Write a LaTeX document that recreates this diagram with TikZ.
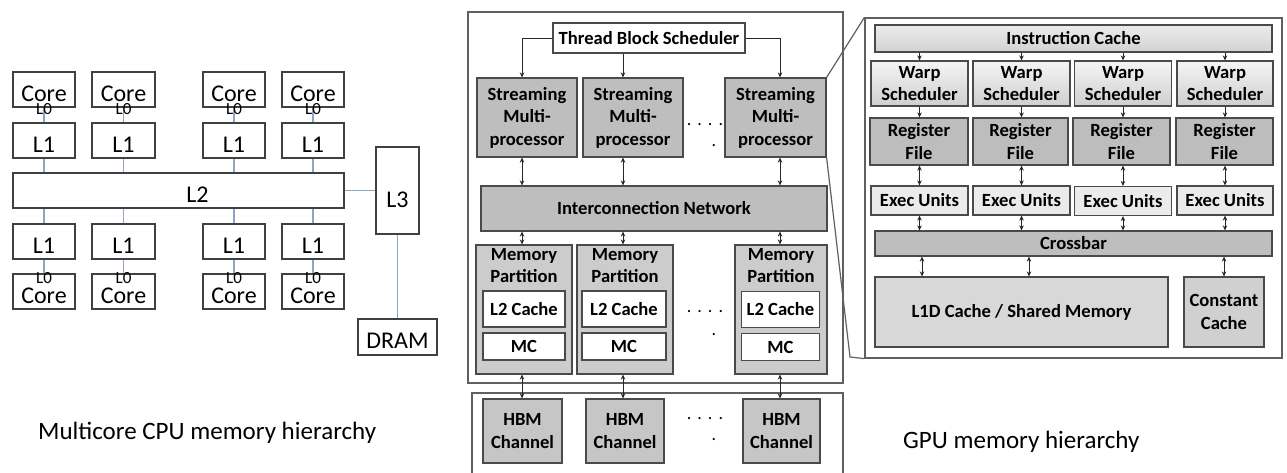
\documentclass[tikz,border=0pt]{standalone}
\usepackage{fontspec}
\setmainfont{Carlito}
\usetikzlibrary{arrows.meta}

\definecolor{boxline}{HTML}{404040}
\definecolor{wireblue}{HTML}{8EA6C6}
\definecolor{gline}{HTML}{4A4A4A}
\definecolor{frameline}{HTML}{606060}
\definecolor{smfill}{HTML}{BEBEBE}
\definecolor{mpfill}{HTML}{CCCCCC}
\definecolor{hbmfill}{HTML}{C6C6C6}
\definecolor{icfill}{HTML}{CFCFCF}
\definecolor{rffill}{HTML}{BDBDBD}
\definecolor{eufill}{HTML}{EBEBEB}
\definecolor{l1dfill}{HTML}{D8D8D8}
\definecolor{ccfill}{HTML}{D0D0D0}

\tikzset{
  cpubox/.style={draw=boxline, line width=1.2pt, fill=white, inner sep=0pt,
    text height=23.5pt, text depth=0pt, font=\fontsize{24}{28}\selectfont},
  lzero/.style={inner sep=0pt, font=\fontsize{17}{17}\selectfont},
  wire/.style={draw=wireblue, line width=1.1pt},
  framebox/.style={draw=frameline, line width=1.2pt, fill=white, inner sep=0pt},
  gbox/.style={draw=gline, line width=1.2pt, inner sep=0pt, align=center,
    font=\bfseries\fontsize{18.6}{22.5}\selectfont},
  wsbox/.style={gbox, top color=gray!8, bottom color=gray!38},
  gdots/.style={inner sep=0pt, font=\fontsize{18}{18}\selectfont},
  caption/.style={inner sep=0pt, anchor=west, font=\fontsize{25}{30}\selectfont},
  link/.style={draw=black!85, line width=1pt, -{Stealth[length=5pt,width=4.5pt]}},
  dlink/.style={draw=black!85, line width=1pt, {Stealth[length=5pt,width=4.5pt]}-{Stealth[length=5pt,width=4.5pt]}}
}

\begin{document}
\begin{tikzpicture}[x=1pt,y=-1pt]
\useasboundingbox (0,0) rectangle (1287,472);
\clip (0,0) rectangle (1287,472);
\fill[white] (0,0) rectangle (1287,472);

% multicore cpu
\node[cpubox, minimum width=62, minimum height=35] (core1) at (44,89.5) {Core}; % Core.1
\node[cpubox, minimum width=63, minimum height=35] (core2) at (123.5,89.5) {Core}; % Core.2
\node[cpubox, minimum width=62, minimum height=35] (core3) at (234,89.5) {Core}; % Core.3
\node[cpubox, minimum width=62, minimum height=35] (core4) at (313,89.5) {Core}; % Core.4
\node[cpubox, minimum width=62, minimum height=35] (l1a) at (44,140.5) {L1}; % L1.1
\node[cpubox, minimum width=63, minimum height=35] (l1b) at (123.5,140.5) {L1}; % L1.2
\node[cpubox, minimum width=62, minimum height=35] (l1c) at (234,140.5) {L1}; % L1.3
\node[cpubox, minimum width=62, minimum height=35] (l1d) at (313,140.5) {L1}; % L1.4
\node[cpubox, minimum width=331, minimum height=35] (l2) at (178.5,190.5) {\hspace*{38pt}L2}; % L2
\node[cpubox, minimum width=43, minimum height=87, text height=34pt] (l3) at (397.5,190.5) {L3}; % L3
\node[cpubox, minimum width=62, minimum height=35] (l1e) at (44,241.5) {L1}; % L1.5
\node[cpubox, minimum width=63, minimum height=35] (l1f) at (123.5,241.5) {L1}; % L1.6
\node[cpubox, minimum width=62, minimum height=35] (l1g) at (234,241.5) {L1}; % L1.7
\node[cpubox, minimum width=62, minimum height=35] (l1h) at (313,241.5) {L1}; % L1.8
\node[cpubox, minimum width=62, minimum height=35] (core5) at (44,291.5) {Core}; % Core.5
\node[cpubox, minimum width=63, minimum height=35] (core6) at (123.5,291.5) {Core}; % Core.6
\node[cpubox, minimum width=62, minimum height=35] (core7) at (234,291.5) {Core}; % Core.7
\node[cpubox, minimum width=62, minimum height=35] (core8) at (313,291.5) {Core}; % Core.8
\node[cpubox, minimum width=79, minimum height=36] (dram) at (397.5,337) {DRAM}; % DRAM
\draw[wire] (core1.south) -- (l1a.north); % L0.1
\draw[wire] (core2.south) -- (l1b.north); % L0.2
\draw[wire] (core3.south) -- (l1c.north); % L0.3
\draw[wire] (core4.south) -- (l1d.north); % L0.4
\draw[wire] (l1a.south) -- (l1a.south |- l2.north);
\draw[wire] (l1b.south) -- (l1b.south |- l2.north);
\draw[wire] (l1c.south) -- (l1c.south |- l2.north);
\draw[wire] (l1d.south) -- (l1d.south |- l2.north);
\draw[wire] (l1e.north) -- (l1e.north |- l2.south);
\draw[wire] (l1f.north) -- (l1f.north |- l2.south);
\draw[wire] (l1g.north) -- (l1g.north |- l2.south);
\draw[wire] (l1h.north) -- (l1h.north |- l2.south);
\draw[wire] (l1e.south) -- (core5.north); % L0.5
\draw[wire] (l1f.south) -- (core6.north); % L0.6
\draw[wire] (l1g.south) -- (core7.north); % L0.7
\draw[wire] (l1h.south) -- (core8.north); % L0.8
\draw[wire] (l2.east) -- (l3.west);
\draw[wire] (l3.south) -- (dram.north);
\node[lzero] (l0a) at ([yshift=-1]core1.south) {L0};
\node[lzero] (l0b) at ([yshift=-1]core2.south) {L0};
\node[lzero] (l0c) at ([yshift=-1]core3.south) {L0};
\node[lzero] (l0d) at ([yshift=-1]core4.south) {L0};
\node[lzero] (l0e) at ([yshift=-5]core5.north) {L0};
\node[lzero] (l0f) at ([yshift=-5]core6.north) {L0};
\node[lzero] (l0g) at ([yshift=-5]core7.north) {L0};
\node[lzero] (l0h) at ([yshift=-5]core8.north) {L0};
\node[caption] (cpucap) at (38,433) {Multicore CPU memory hierarchy};

% gpu
\node[framebox, minimum width=375, minimum height=371] (gpu) at (655.5,197.5) {};
\node[framebox, minimum width=371, minimum height=110] (hbm) at (657.5,448) {};
\coordinate (col1) at (522,0);
\coordinate (col2) at (623,0);
\coordinate (col3) at (780,0);
\node[gbox, fill=white, minimum width=192, minimum height=30] (tbs) at (649,38) {Thread Block Scheduler};
\node[gbox, fill=smfill, minimum width=100, minimum height=79] (sm1) at (527,117.5) {Streaming\\Multi-\\processor}; % SM.1
\node[gbox, fill=smfill, minimum width=100, minimum height=79] (sm2) at (633,117.5) {Streaming\\Multi-\\processor}; % SM.2
\node[gbox, fill=smfill, minimum width=101, minimum height=79] (sm3) at (775.5,117.5) {Streaming\\Multi-\\processor}; % SM.3
\node[gdots] (smdots) at (705,125) {.\,\,.\,\,.\,\,.};
\node[gdots] (smdot) at (714,146) {.};
\node[gbox, fill=smfill, minimum width=346, minimum height=45] (icnt) at (654,208.5) {Interconnection Network};
\node[gbox, fill=mpfill, minimum width=96, minimum height=129] (mp1) at (524,309.5) {}; % MP.1
\node[gbox, fill=mpfill, minimum width=96, minimum height=129] (mp2) at (625,309.5) {}; % MP.2
\node[gbox, fill=mpfill, minimum width=92, minimum height=129] (mp3) at (781,309.5) {}; % MP.3
\node[gbox, draw=none] (mp1t) at ([yshift=-21]mp1.north) {Memory\\Partition};
\node[gbox, draw=none] (mp2t) at ([yshift=-21]mp2.north) {Memory\\Partition};
\node[gbox, draw=none] (mp3t) at ([yshift=-21]mp3.north) {Memory\\Partition};
\node[gbox, fill=white, minimum width=82, minimum height=36] (l2c1) at (524,309) {L2 Cache};
\node[gbox, fill=white, minimum width=84, minimum height=36] (l2c2) at (624,309) {L2 Cache};
\node[gbox, fill=white, minimum width=78, minimum height=36] (l2c3) at (780.5,309.5) {L2 Cache};
\node[gbox, fill=white, minimum width=82, minimum height=27] (mc1) at (524,346.5) {MC};
\node[gbox, fill=white, minimum width=84, minimum height=27] (mc2) at (624,346.5) {MC};
\node[gbox, fill=white, minimum width=78, minimum height=27] (mc3) at (780.5,347) {MC};
\node[gdots] (mpdots) at (705,312) {.\,\,.\,\,.\,\,.};
\node[gdots] (mpdot) at (714,335) {.};
\node[gbox, fill=hbmfill, minimum width=79, minimum height=64] (hbm1) at (522.5,431) {HBM\\Channel}; % HBM.1
\node[gbox, fill=hbmfill, minimum width=78, minimum height=64] (hbm2) at (625,431) {HBM\\Channel}; % HBM.2
\node[gbox, fill=hbmfill, minimum width=77, minimum height=64] (hbm3) at (781.5,431) {HBM\\Channel}; % HBM.3
\node[gdots] (hbmdots) at (705,419) {.\,\,.\,\,.\,\,.};
\node[gdots] (hbmdot) at (714,440) {.};
\draw[link] (tbs.west) -| (sm1.north -| col1);
\draw[link] (tbs.south -| col2) -- (sm2.north -| col2);
\draw[link] (tbs.east) -| (sm3.north -| col3);
\draw[dlink] (sm1.south -| col1) -- (icnt.north -| col1);
\draw[dlink] (sm2.south -| col2) -- (icnt.north -| col2);
\draw[dlink] (sm3.south -| col3) -- (icnt.north -| col3);
\draw[dlink] (icnt.south -| col1) -- (mp1.north -| col1);
\draw[dlink] (icnt.south -| col2) -- (mp2.north -| col2);
\draw[dlink] (icnt.south -| col3) -- (mp3.north -| col3);
\draw[dlink] (mp1.south -| col1) -- (hbm1.north -| col1);
\draw[dlink] (mp2.south -| col2) -- (hbm2.north -| col2);
\draw[dlink] (mp3.south -| col3) -- (hbm3.north -| col3);

% inside one streaming multiprocessor
\coordinate (bend) at (850,357);
\node[framebox, minimum width=417, minimum height=340] (smin) at (1073.5,188) {};
\draw[draw=frameline, line width=1.2pt] (sm3.north east) -- (smin.north west);
\draw[draw=frameline, line width=1.2pt] (sm3.south east) -- (bend) -- (smin.south west);
\node[gbox, top color=gray!15, bottom color=gray!35, minimum width=397, minimum height=27] (icache) at (1073.5,38.5) {Instruction Cache};
\node[wsbox, minimum width=97, minimum height=45] (ws1) at (919.5,83.5) {Warp\\Scheduler}; % WS.1
\node[wsbox, minimum width=97, minimum height=45] (ws2) at (1021.5,83.5) {Warp\\Scheduler}; % WS.2
\node[wsbox, minimum width=97, minimum height=45] (ws3) at (1123,83.5) {Warp\\Scheduler}; % WS.3
\node[wsbox, minimum width=96, minimum height=45] (ws4) at (1225,83.5) {Warp\\Scheduler}; % WS.4
\node[gbox, fill=rffill, minimum width=98, minimum height=47] (rf1) at (919,141.5) {Register\\File}; % RF.1
\node[gbox, fill=rffill, minimum width=95, minimum height=47] (rf2) at (1020.5,141.5) {Register\\File}; % RF.2
\node[gbox, fill=rffill, minimum width=97, minimum height=47] (rf3) at (1121.5,141.5) {Register\\File}; % RF.3
\node[gbox, fill=rffill, minimum width=97, minimum height=47] (rf4) at (1224.5,141.5) {Register\\File}; % RF.4
\node[gbox, fill=eufill, minimum width=97, minimum height=29] (eu1) at (919.5,200.5) {Exec Units}; % EU.1
\node[gbox, fill=eufill, minimum width=97, minimum height=29] (eu2) at (1021.5,200.5) {Exec Units}; % EU.2
\node[gbox, fill=eufill, minimum width=97, minimum height=29] (eu3) at (1123,201) {Exec Units}; % EU.3
\node[gbox, fill=eufill, minimum width=96, minimum height=29] (eu4) at (1225,200.5) {Exec Units}; % EU.4
\node[gbox, fill=smfill, minimum width=397, minimum height=25] (xbar) at (1073.5,243.5) {Crossbar};
\node[gbox, fill=l1dfill, minimum width=293, minimum height=70] (l1d) at (1021.5,312) {L1D Cache / Shared Memory};
\node[gbox, fill=ccfill, minimum width=80, minimum height=70] (ccache) at (1224,312) {Constant\\Cache};
\draw[link] (icache.south -| ws1) -- (ws1.north);
\draw[link] (icache.south -| ws2) -- (ws2.north);
\draw[link] (icache.south -| ws3) -- (ws3.north);
\draw[link] (icache.south -| ws4) -- (ws4.north);
\draw[link] (ws1.south) -- (ws1.south |- rf1.north);
\draw[link] (ws2.south) -- (ws2.south |- rf2.north);
\draw[link] (ws3.south) -- (ws3.south |- rf3.north);
\draw[link] (ws4.south) -- (ws4.south |- rf4.north);
\draw[dlink] (rf1.south -| ws1) -- (eu1.north -| ws1);
\draw[dlink] (rf2.south -| ws2) -- (eu2.north -| ws2);
\draw[dlink] (rf3.south -| ws3) -- (eu3.north -| ws3);
\draw[dlink] (rf4.south -| ws4) -- (eu4.north -| ws4);
\draw[dlink] (eu1.south) -- (eu1.south |- xbar.north);
\draw[dlink] (eu2.south) -- (eu2.south |- xbar.north);
\draw[dlink] (eu3.south) -- (eu3.south |- xbar.north);
\draw[dlink] (eu4.south) -- (eu4.south |- xbar.north);
\draw[dlink] (xbar.south -| 922,0) -- (l1d.north -| 922,0);
\draw[dlink] (xbar.south -| 1029,0) -- (l1d.north -| 1029,0);
\draw[dlink] (xbar.south -| ccache) -- (ccache.north);
\node[caption] (gpucap) at (903,442) {GPU memory hierarchy};
\end{tikzpicture}
\end{document}
